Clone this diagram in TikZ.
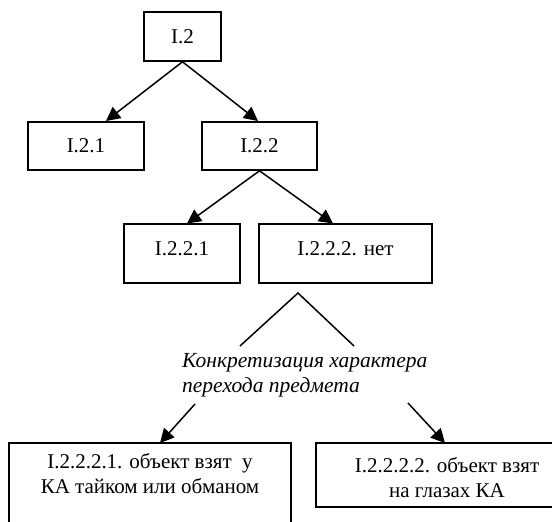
\documentclass[tikz,border=0pt]{standalone}
\usepackage{fontspec}
\setmainfont{Liberation Serif}
\usetikzlibrary{arrows.meta}
\tikzset{
  box/.style={draw, line width=1.6pt, inner sep=0pt, font=\fontsize{21}{25}\selectfont, align=center},
  link/.style={line width=1.5pt},
  arr/.style={line width=1.5pt, -{Triangle[length=14pt,width=14pt]}},
  txt/.style={inner sep=0pt, font=\fontsize{21}{25}\selectfont}
}
\begin{document}
\begin{tikzpicture}[x=1pt,y=-1pt]
\useasboundingbox (0,0) rectangle (552,522);
\clip (0,0) rectangle (552,522);
\node[box, minimum width=77pt, minimum height=49pt] (n1) at (182.5,36.5) {I.2};
\node[box, minimum width=116pt, minimum height=48pt] (n21) at (86,146) {I.2.1};
\node[box, minimum width=115pt, minimum height=48pt] (n22) at (259.5,146) {I.2.2};
\node[box, minimum width=116pt, minimum height=59pt, text height=14pt, text depth=10pt] (n221) at (182,253.5) {I.2.2.1};
\node[box, minimum width=173pt, minimum height=59pt, text height=14pt, text depth=10pt] (n222) at (345.5,253.5) {I.2.2.2. нет};
\node[box, minimum width=282pt, minimum height=100pt] (b1) at (150,493) {};
\node[txt, align=center, anchor=north] (t1) at (150,453) {I.2.2.2.1. объект взят\ \ у\\КА тайком или обманом};
\node[box, minimum width=264pt, minimum height=64pt] (b2) at (448,475) {};
\node[txt, align=center] (t2) at (447,478) {I.2.2.2.2. объект взят\\на глазах КА};
\node[txt, align=left, anchor=north west, font=\fontsize{21.5}{25}\selectfont\itshape] (mid) at (182,353) {Конкретизация характера\\перехода предмета};
\coordinate (apex) at (298,293);
\coordinate (ll) at (240,346);
\coordinate (rl) at (354,346);
\coordinate (as1) at (195,404);
\coordinate (as2) at (408,403);
\draw[arr] (n1.south) -- (106,121);
\draw[arr] (n1.south) -- (258,121);
\draw[arr] (n22.south) -- (187,223.5);
\draw[arr] (n22.south) -- (333,223.5);
\draw[link] (ll) -- (apex) -- (rl);
\draw[arr] (as1) -- (160,443);
\draw[arr] (as2) -- (445,443);
\end{tikzpicture}
\end{document}
